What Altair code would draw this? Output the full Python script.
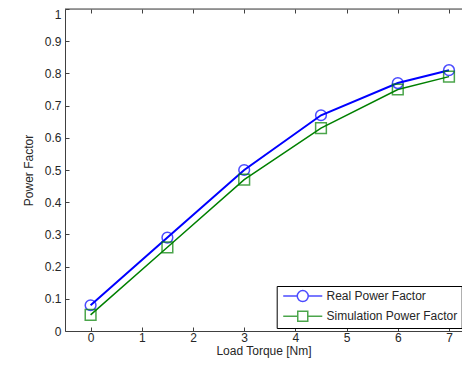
import altair as alt
import pandas as pd

torque = [0, 1.5, 3, 4.5, 6, 7]
real_pf = [0.08, 0.29, 0.50, 0.67, 0.77, 0.81]
sim_pf = [0.05, 0.26, 0.47, 0.63, 0.75, 0.79]
series_names = ["Real Power Factor", "Simulation Power Factor"]
series_colors = ["#0000ff", "#008000"]
series_widths = [2, 1.5]
x_ticks = [0, 1, 2, 3, 4, 5, 6, 7]
y_ticks = [0, 0.1, 0.2, 0.3, 0.4, 0.5, 0.6, 0.7, 0.8, 0.9, 1.0]
y_labels_main = [0, 0.1, 0.2, 0.3, 0.4, 0.5, 0.6, 0.7, 0.8, 0.9]
y_label_top = [1]
x_title = "Load Torque [Nm]"
y_title = "Power Factor"

# legend symbols: line segment with marker (custom SVG paths)
legend_paths = [
    "M-3.55,0L-1,0M1,0L3.55,0M1,0A1,1,0,1,1,-1,0A1,1,0,1,1,1,0",
    "M-3.55,0L-0.91,0M0.91,0L3.55,0M-0.91,-0.91L0.91,-0.91L0.91,0.91L-0.91,0.91Z",
]

rows = []
for name, vals in zip(series_names, [real_pf, sim_pf]):
    for t, v in zip(torque, vals):
        rows.append({"torque": t, "pf": v, "series": name})
df = pd.DataFrame(rows)

AX = "#404040"
TXT = "#262626"
FONT = "Liberation Sans"

xs = alt.Scale(domain=[-0.5, 7.254], nice=False, zero=False)
ys = alt.Scale(domain=[0, 1], nice=False, zero=False)

def cscale():
    return alt.Scale(domain=series_names, range=series_colors)

base = alt.Chart(df)

lines = base.mark_line().encode(
    x=alt.X("torque:Q", scale=xs, axis=alt.Axis(
        values=x_ticks, format="~g", ticks=False, domain=True, domainColor=AX,
        domainWidth=1, grid=False, labelPadding=1, title=x_title, titlePadding=2,
        labelFont=FONT, labelFontSize=12, labelColor=TXT,
        titleFont=FONT, titleFontSize=12, titleFontWeight="normal", titleColor=TXT)),
    y=alt.Y("pf:Q", scale=ys, axis=alt.Axis(
        values=y_labels_main, format="~g", ticks=False, domain=True, domainColor=AX,
        domainWidth=1, grid=False, labelPadding=4, title=y_title, titlePadding=9,
        labelFont=FONT, labelFontSize=12, labelColor=TXT,
        titleFont=FONT, titleFontSize=12, titleFontWeight="normal", titleColor=TXT)),
    color=alt.Color("series:N", scale=cscale(), legend=None),
    strokeWidth=alt.StrokeWidth("series:N", scale=alt.Scale(domain=series_names, range=series_widths), legend=None),
    detail="series:N",
)

points = base.mark_point(filled=False, size=115, strokeWidth=1.5).encode(
    x=alt.X("torque:Q", scale=xs, axis=None),
    y=alt.Y("pf:Q", scale=ys, axis=None),
    color=alt.Color("series:N", scale=cscale(), legend=None),
    shape=alt.Shape("series:N", scale=alt.Scale(domain=series_names, range=["circle", "square"]), legend=None),
)

legend_props = dict(
    orient="none", legendX=211.7, legendY=277, title=None,
    padding=3.6, strokeColor="#000000", fillColor="#ffffff",
    symbolOffset=15.95, labelOffset=17.25, rowPadding=3.25,
    symbolStrokeWidth=1.5, symbolSize=121,
    labelFont=FONT, labelFontSize=12, labelColor=TXT,
)

legend_layer = base.transform_calculate(hx="-100").mark_point(
    filled=False, size=121, strokeWidth=1.5, clip=True
).encode(
    x=alt.X("hx:Q", scale=xs, axis=None),
    y=alt.Y("pf:Q", scale=ys, axis=None),
    color=alt.Color("series:N", scale=cscale(), legend=alt.Legend(**legend_props)),
    shape=alt.Shape("series:N", scale=alt.Scale(domain=series_names, range=legend_paths),
                    legend=alt.Legend(**legend_props)),
)

# inward ticks: bottom and left
ticks_bl = base.mark_point(opacity=0).encode(
    x=alt.X("torque:Q", scale=xs, axis=alt.Axis(
        orient="bottom", values=x_ticks, offset=-4, tickSize=4, tickColor=AX,
        labels=False, domain=False, grid=False, title=None)),
    y=alt.Y("pf:Q", scale=ys, axis=alt.Axis(
        orient="left", values=y_ticks, offset=-4, tickSize=4, tickColor=AX,
        labels=False, domain=False, grid=False, title=None)),
)

# inward ticks: top, and the top "1" label
ticks_top = base.mark_point(opacity=0).encode(
    x=alt.X("torque:Q", scale=xs, axis=alt.Axis(
        orient="top", values=x_ticks, offset=-4, tickSize=4, tickColor=AX,
        labels=False, domain=False, grid=False, title=None)),
    y=alt.Y("pf:Q", scale=ys, axis=alt.Axis(
        orient="left", values=y_label_top, format="~g", ticks=False, domain=False,
        grid=False, title=None, labelPadding=4, labelOffset=5,
        labelFont=FONT, labelFontSize=12, labelColor=TXT)),
)

top_border = alt.Chart(pd.DataFrame({"v": [1]})).mark_rule(color=AX, strokeWidth=1).encode(
    y=alt.Y("v:Q", scale=ys, axis=None),
)

chart = alt.layer(lines, points, legend_layer, ticks_bl, ticks_top, top_border).resolve_axis(
    x="independent", y="independent"
).resolve_scale(
    color="independent", shape="independent", strokeWidth="independent"
).properties(
    width=397, height=322,
    padding={"left": 57, "top": 1, "right": 0, "bottom": 28},
    autosize=alt.AutoSizeParams(type="none"),
).configure_view(stroke=None).configure(background="white")

chart.save("out.html", embed_options={"renderer": "svg", "actions": False})
